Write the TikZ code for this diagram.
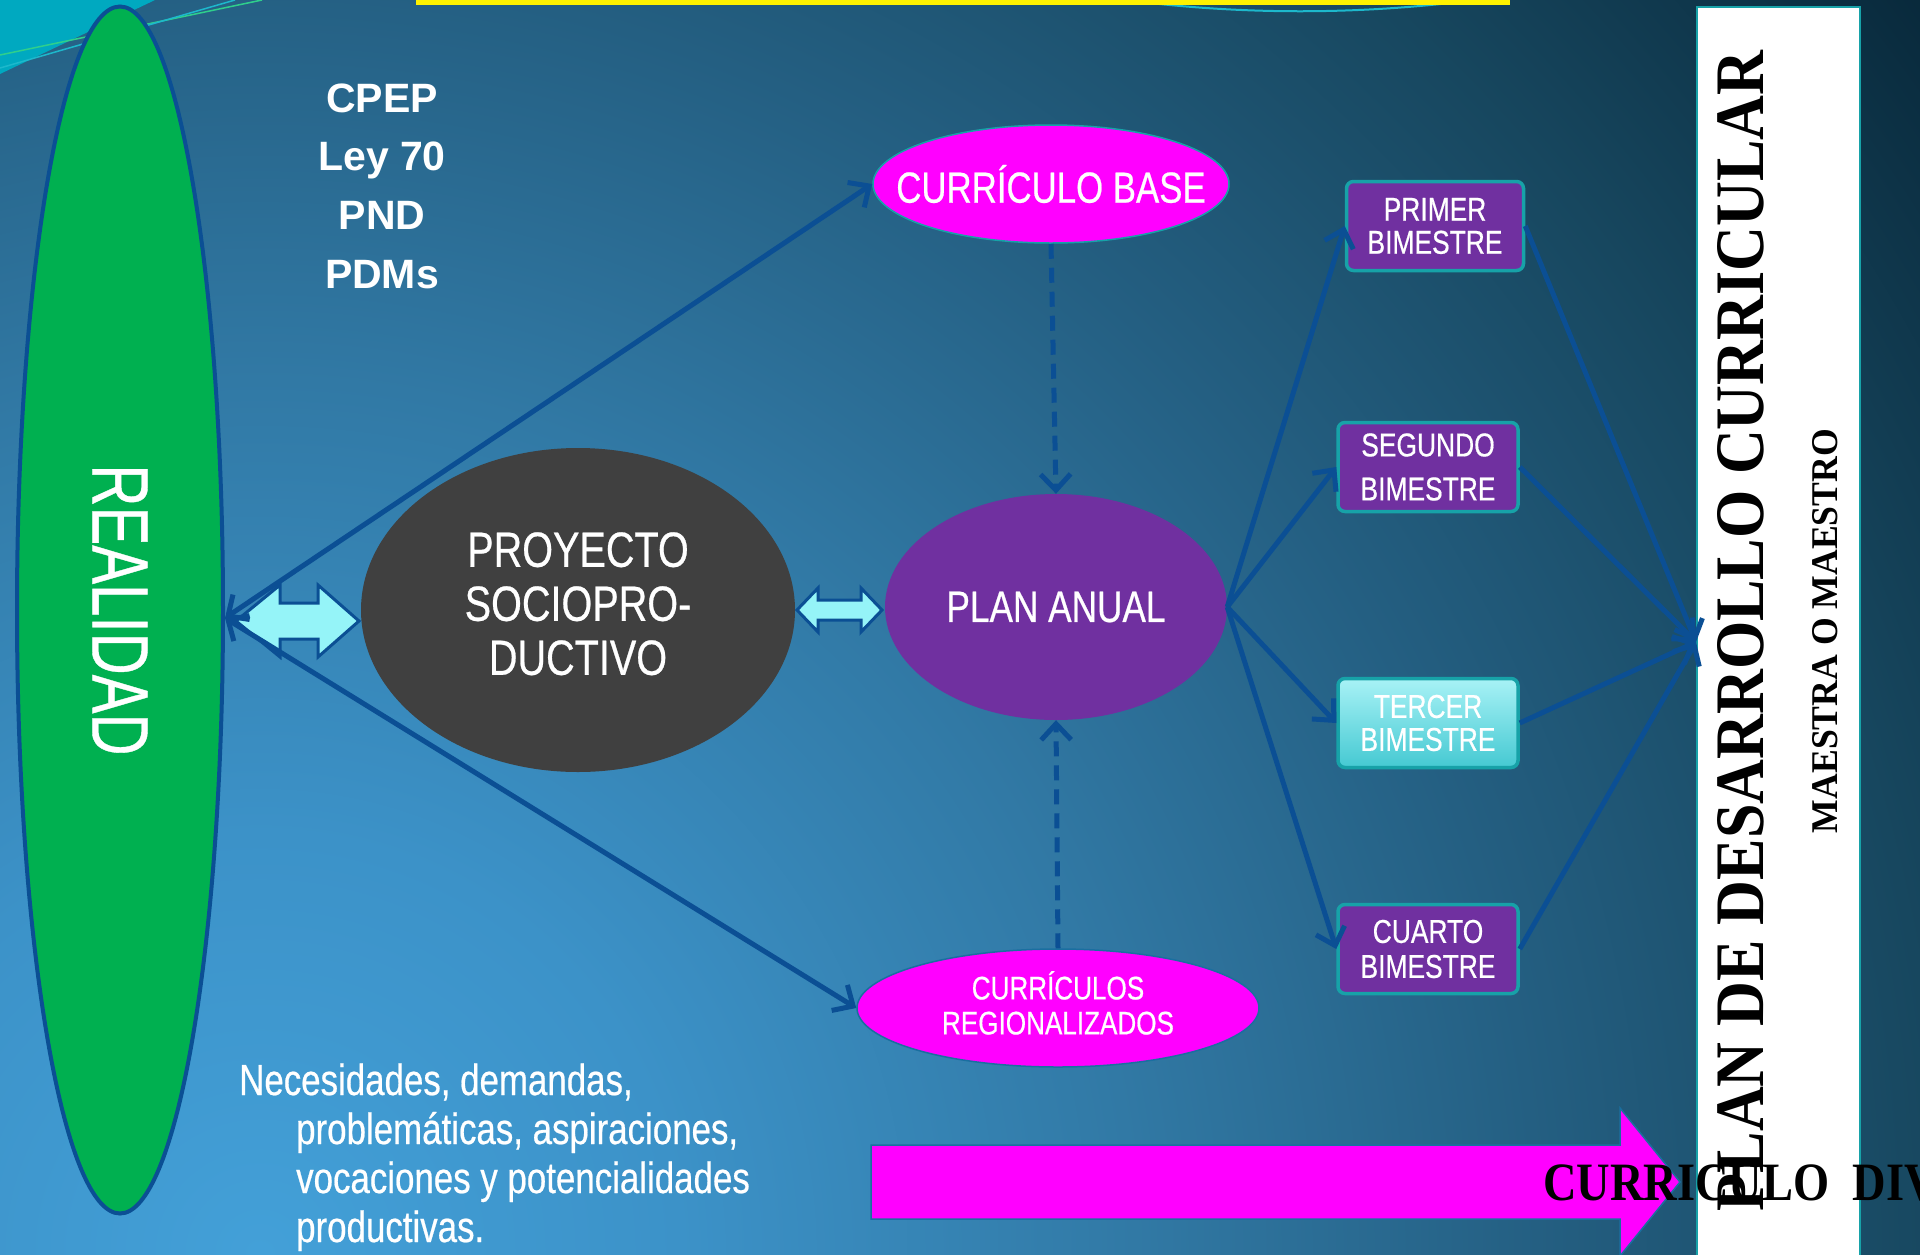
\documentclass[tikz,border=0pt]{standalone}
\usepackage{fontspec}
\usepackage{graphicx}
\setmainfont{Liberation Sans}
\newfontfamily\narrowf[FakeStretch=0.8,FakeBold=0.5]{Liberation Sans}
\newfontfamily\serifb{Liberation Serif}
\newfontfamily\serifn[FakeStretch=0.86]{Liberation Serif}
\usetikzlibrary{arrows.meta,shapes.geometric}
\definecolor{lineblue}{HTML}{0B4F94}
\definecolor{mag}{HTML}{FF00FF}
\definecolor{purp}{HTML}{7030A0}
\definecolor{grn}{HTML}{00B050}
\definecolor{dgray}{HTML}{404040}
\definecolor{boxedge}{HTML}{17A2A8}
\definecolor{lcyan}{HTML}{95F4F8}
\definecolor{tcTop}{HTML}{A8F2F6}
\definecolor{tcBot}{HTML}{45C9D2}
\definecolor{tlcyan}{HTML}{00A9C0}
\definecolor{tlgreen}{HTML}{2FCF8C}
\definecolor{tlcyanb}{HTML}{1DB8CC}
\definecolor{magedge}{HTML}{1A6FA0}
\definecolor{bgA}{HTML}{43A0D8}
\definecolor{bgB}{HTML}{3C92C8}
\definecolor{bgC}{HTML}{3179A5}
\definecolor{bgD}{HTML}{245F82}
\definecolor{bgE}{HTML}{17475F}
\definecolor{bgF}{HTML}{08283A}
\pgfdeclareradialshading{bgshade}{\pgfpoint{0bp}{0bp}}{color(0bp)=(bgA); color(5bp)=(bgB); color(10.4bp)=(bgC); color(15.2bp)=(bgD); color(20bp)=(bgE); color(25bp)=(bgF); color(50bp)=(bgF)}
\begin{document}
\begin{tikzpicture}[x=1pt,y=-1pt,
  ell/.style={ellipse, inner sep=0pt, text=white},
  conn/.style={draw=lineblue, line width=5pt},
  ar/.style={-{Straight Barb[length=16pt,width=30pt]}},
  dar/.style={{Straight Barb[length=16pt,width=30pt]}-{Straight Barb[length=16pt,width=30pt]}},
  dsh/.style={dash pattern=on 15pt off 9pt},
  bim/.style={rectangle, rounded corners=7pt, draw=boxedge, line width=3.5pt, fill=purp, text=white,
    minimum width=180pt, minimum height=89pt, align=center, inner sep=0pt,
    font=\narrowf\fontsize{33}{33}\selectfont},
  blockar/.style={draw=lineblue, line width=3pt, fill=lcyan, line join=miter}
]
\useasboundingbox (0,0) rectangle (1920,1254);
\begin{scope}
  \clip (0,0) rectangle (1920,1254);
  \shade[shading=bgshade] (260,1254) circle (2100pt);
  \fill[tlcyan] (0,0) -- (155,0) -- (0,74) -- cycle;
  \draw[tlgreen, line width=1.5pt] (0,55) -- (262,0);
  \draw[tlcyanb, line width=1.5pt] (0,68) -- (235,0);
  \draw[tlcyanb, line width=2pt] (1150,3) .. controls (1250,14) and (1350,14) .. (1450,3);
  \fill[yellow] (416,0) rectangle (1510,5);
\end{scope}

% right panel
\node[rectangle, fill=white, draw=boxedge, line width=2pt, minimum width=163pt, minimum height=1270pt,
  anchor=north west, inner sep=0pt] (pdc) at (1696,6) {};
\node[rotate=90, inner sep=0pt] (pdct) at (1741,631)
  {\resizebox{1160pt}{46pt}{\serifb\bfseries PLAN DE DESARROLLO CURRICULAR}};
\node[rotate=90, inner sep=0pt] (mm) at (1825,631)
  {\resizebox{404pt}{25pt}{\serifb\bfseries MAESTRA O MAESTRO}};

% main nodes
\node[ell, fill=grn, draw=lineblue, line width=4pt, minimum width=206pt, minimum height=1207pt] (re) at (120,610)
  {\rotatebox{-90}{\resizebox{291pt}{55pt}{\narrowf REALIDAD}}};
\node[ell, fill=dgray, minimum width=434pt, minimum height=324pt] (ps) at (578,610)
  {\raisebox{-7pt}{\makebox[0pt]{\narrowf\fontsize{49.5}{54}\selectfont\begin{tabular}{@{}c@{}}PROYECTO\\SOCIOPRO-\\DUCTIVO\end{tabular}}}};
\node[ell, fill=mag, draw=boxedge, line width=1.5pt, minimum width=356pt, minimum height=118pt] (cb) at (1051,184)
  {\makebox[0pt]{\narrowf\fontsize{43.5}{44}\selectfont CURRÍCULO BASE}};
\node[ell, fill=purp, minimum width=342pt, minimum height=226pt] (pa) at (1056,607)
  {\makebox[0pt]{\narrowf\fontsize{44}{48}\selectfont PLAN ANUAL}};
\node[ell, fill=mag, draw=magedge, line width=1.5pt, minimum width=402pt, minimum height=118pt] (cr) at (1058,1008)
  {\raisebox{-4pt}{\makebox[0pt]{\narrowf\fontsize{32.6}{35}\selectfont\begin{tabular}{@{}c@{}}CURRÍCULOS\\REGIONALIZADOS\end{tabular}}}};

\node[bim, minimum width=177pt] (b1) at (1435,226) {PRIMER\\BIMESTRE};
\node[bim, font=\narrowf\fontsize{33}{44}\selectfont] (b2) at (1428,467) {SEGUNDO\\BIMESTRE};
\node[bim, top color=tcTop, bottom color=tcBot] (b3) at (1428,723) {TERCER\\BIMESTRE};
\node[bim, font=\narrowf\fontsize{33}{35}\selectfont] (b4) at (1428,949) {CUARTO\\BIMESTRE};

% texts
\node[anchor=base, text=white, inner sep=0pt] (laws) at (382,112)
  {\bfseries\fontsize{41}{58.7}\selectfont\begin{tabular}[t]{@{}c@{}}CPEP\\Ley 70\\PND\\PDMs\end{tabular}};
\node[anchor=base west, text=white, inner sep=0pt] (needs) at (239,1095)
  {\narrowf\fontsize{43.6}{49}\selectfont\begin{tabular}[t]{@{}l@{}}Necesidades, demandas,\\\hspace{57pt}problemáticas, aspiraciones,\\\hspace{57pt}vocaciones y potencialidades\\\hspace{57pt}productivas.\end{tabular}};

% block double arrows
\draw[blockar] (236,621) -- (280,585) -- (280,603) -- (318,603) -- (318,585) -- (359,621)
  -- (318,657) -- (318,639) -- (280,639) -- (280,657) -- cycle;
\draw[blockar] (797,610) -- (818,588) -- (818,600) -- (861,600) -- (861,588) -- (882,610)
  -- (861,632) -- (861,620) -- (818,620) -- (818,632) -- cycle;

% connectors
\draw[conn, dar] ([yshift=-8pt]re.east) -- (cb.west);
\draw[conn, dar] ([yshift=-8pt]re.east) -- (cr.west);
\draw[conn, ar, dsh] (cb.south) -- (pa.north);
\draw[conn, ar, dsh] (cr.north) -- (pa.south);
\foreach \b in {b1,b2,b3,b4} {
  \draw[conn, ar] (pa.east) -- (\b.west);
  \draw[conn, ar] (\b.east) -- (pdc.west);
}

% magenta arrow and its text
\draw[fill=mag, draw=magedge, line width=1.5pt] (871,1145) -- (1620,1145) -- (1620,1108) -- (1680,1182)
  -- (1620,1256) -- (1620,1219) -- (871,1219) -- cycle;
\node[anchor=base west, inner sep=0pt] (cdiv) at (1543,1200)
  {\serifn\bfseries\fontsize{54}{60}\selectfont CURRICULO\ \ DIV};
\end{tikzpicture}
\end{document}
